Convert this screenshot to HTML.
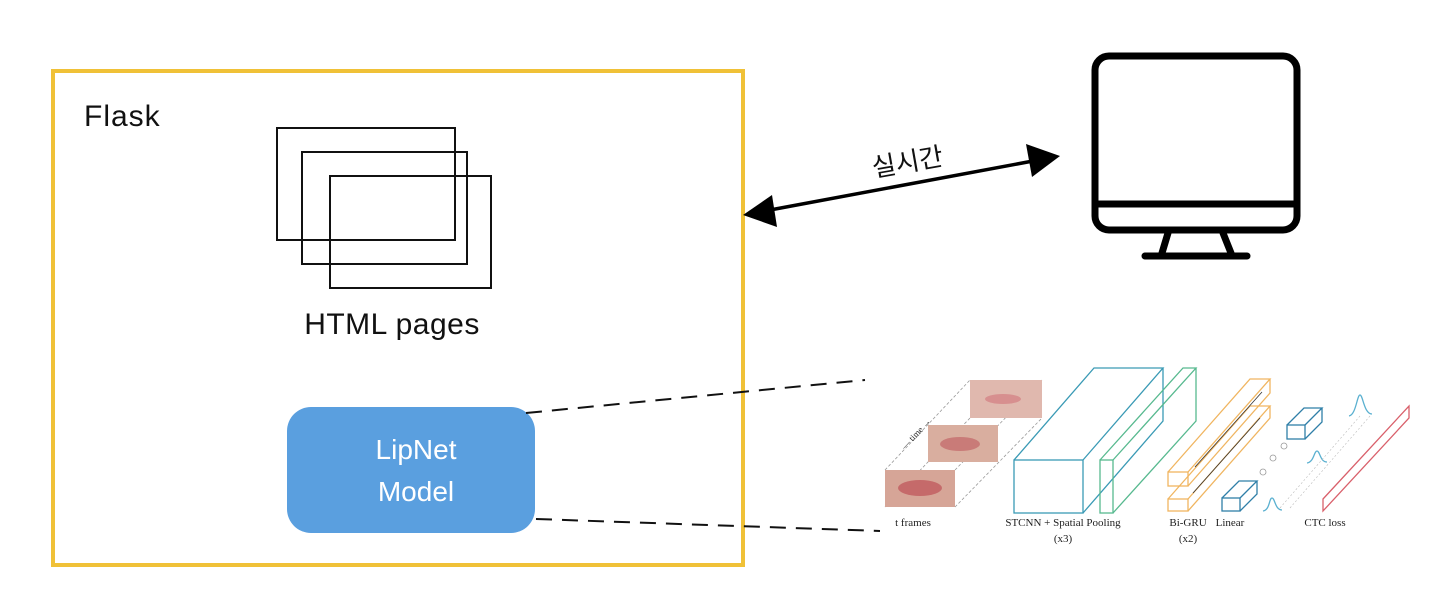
<!DOCTYPE html>
<html><head><meta charset="utf-8"><style>
html,body{margin:0;padding:0;background:#fff;}
body{width:1440px;height:604px;overflow:hidden;position:relative;font-family:"Liberation Sans","Noto Sans CJK KR",sans-serif;}
</style></head><body>
<svg width="1440" height="604" viewBox="0 0 1440 604" xmlns="http://www.w3.org/2000/svg" style="position:absolute;left:0;top:0">
<rect x="53" y="71" width="690" height="494" fill="none" stroke="#f0c137" stroke-width="4"/>
<text x="84" y="126" font-size="30" letter-spacing="1" font-family="Liberation Sans, sans-serif" fill="#111">Flask</text>
<g fill="none" stroke="#111" stroke-width="2">
<rect x="277" y="128" width="178" height="112"/>
<rect x="302" y="152" width="165" height="112"/>
<rect x="330" y="176" width="161" height="112"/>
</g>
<text x="392" y="334" font-size="30" letter-spacing="0.5" text-anchor="middle" fill="#111">HTML pages</text>
<rect x="287" y="407" width="248" height="126" rx="24" fill="#5a9fdf"/>
<text x="416" y="459" font-size="28" text-anchor="middle" fill="#fff">LipNet</text>
<text x="416" y="501" font-size="28" text-anchor="middle" fill="#fff">Model</text>
<g stroke="#111" stroke-width="2" stroke-dasharray="16,10">
<line x1="526" y1="413" x2="865" y2="380"/>
<line x1="536" y1="519" x2="880" y2="531"/>
</g>
<line x1="770" y1="210" x2="1033" y2="161" stroke="#000" stroke-width="3.5"/>
<polygon points="743,215 772,195 777,227" fill="#000"/>
<polygon points="1060,156 1026,144 1032,177" fill="#000"/>
<text x="908" y="171" font-size="26" text-anchor="middle" fill="#111" transform="rotate(-10 908 165)" font-family="Liberation Sans, Noto Sans CJK KR, sans-serif">실시간</text>
<g fill="none" stroke="#000" stroke-width="7" stroke-linecap="round">
<rect x="1095" y="56" width="202" height="174" rx="14"/>
<line x1="1095" y1="204" x2="1297" y2="204"/>
<line x1="1168" y1="233" x2="1162" y2="253"/>
<line x1="1223" y1="233" x2="1231" y2="253"/>
<line x1="1145" y1="256" x2="1247" y2="256"/>
</g>
<g stroke="#999" stroke-width="0.8" stroke-dasharray="3,2" fill="none">
<line x1="885" y1="470" x2="970" y2="380"/>
<line x1="955" y1="470" x2="1042" y2="380"/>
<line x1="885" y1="507" x2="970" y2="418"/>
<line x1="955" y1="507" x2="1042" y2="418"/>
</g>
<rect x="970" y="380" width="72" height="38" fill="#e0b8ae"/>
<ellipse cx="1003" cy="399" rx="18" ry="5" fill="#d78f8f"/>
<rect x="928" y="425" width="70" height="37" fill="#d9ae9f"/>
<ellipse cx="960" cy="444" rx="20" ry="7" fill="#c97b78"/>
<rect x="885" y="470" width="70" height="37" fill="#d6a597"/>
<ellipse cx="920" cy="488" rx="22" ry="8" fill="#c56a6a"/>
<text x="905" y="450" font-size="9" font-family="Liberation Serif, serif" fill="#333" transform="rotate(-47 905 450)">— time →</text>
<g fill="none" stroke-width="1.3">
<g stroke="#3a9ab5">
<rect x="1014" y="460" width="69" height="53"/>
<polyline points="1014,460 1094,368 1163,368 1083,460"/>
<polyline points="1163,368 1163,421 1083,513"/>
</g>
<g stroke="#57b98f">
<rect x="1100" y="460" width="13" height="53"/>
<polyline points="1100,460 1183,368 1196,368 1113,460"/>
<polyline points="1196,368 1196,421 1113,513"/>
</g>
<g stroke="#f0b560">
<rect x="1168" y="472" width="20" height="14"/>
<polyline points="1168,472 1250,379 1270,379 1188,472"/>
<polyline points="1270,379 1270,393 1188,486"/>
<rect x="1168" y="499" width="20" height="12"/>
<polyline points="1168,499 1250,406 1270,406 1188,499"/>
<polyline points="1270,406 1270,418 1188,511"/>
</g>
<line x1="1195" y1="467" x2="1262" y2="392" stroke="#333" stroke-width="0.8"/>
<line x1="1193" y1="493" x2="1260" y2="418" stroke="#333" stroke-width="0.8"/>
<g stroke="#2f7fa8">
<rect x="1222" y="498" width="18" height="13"/>
<polyline points="1222,498 1239,481 1257,481 1240,498"/>
<polyline points="1257,481 1257,494 1240,511"/>
<rect x="1287" y="425" width="18" height="14"/>
<polyline points="1287,425 1304,408 1322,408 1305,425"/>
<polyline points="1322,408 1322,422 1305,439"/>
</g>
<g stroke="#999" stroke-width="0.8">
<circle cx="1263" cy="472" r="3"/><circle cx="1273" cy="458" r="3"/><circle cx="1284" cy="446" r="3"/>
</g>
<g stroke="#5ab0d0">
<path d="M1263,511 C1270,510 1269,498 1272,498 C1275,498 1275,510 1282,510"/>
<path d="M1307,463 C1314,462 1314,451 1317,451 C1320,451 1320,462 1327,462"/>
<path d="M1349,416 C1356,415 1357,395 1360,395 C1363,395 1364,414 1372,414"/>
</g>
<g stroke="#bbb" stroke-width="0.6" stroke-dasharray="2,2">
<line x1="1280" y1="508" x2="1360" y2="416"/><line x1="1290" y1="508" x2="1370" y2="416"/>
</g>
<polygon points="1323,499 1409,406 1409,418 1323,511" stroke="#d9606b"/>
</g>
<g font-family="Liberation Serif, serif" font-size="11" fill="#222" text-anchor="middle">
<text x="913" y="526">t frames</text>
<text x="1063" y="526">STCNN + Spatial Pooling</text>
<text x="1063" y="542">(x3)</text>
<text x="1188" y="526">Bi-GRU</text>
<text x="1188" y="542">(x2)</text>
<text x="1230" y="526">Linear</text>
<text x="1325" y="526">CTC loss</text>
</g>
</svg>
</body></html>
